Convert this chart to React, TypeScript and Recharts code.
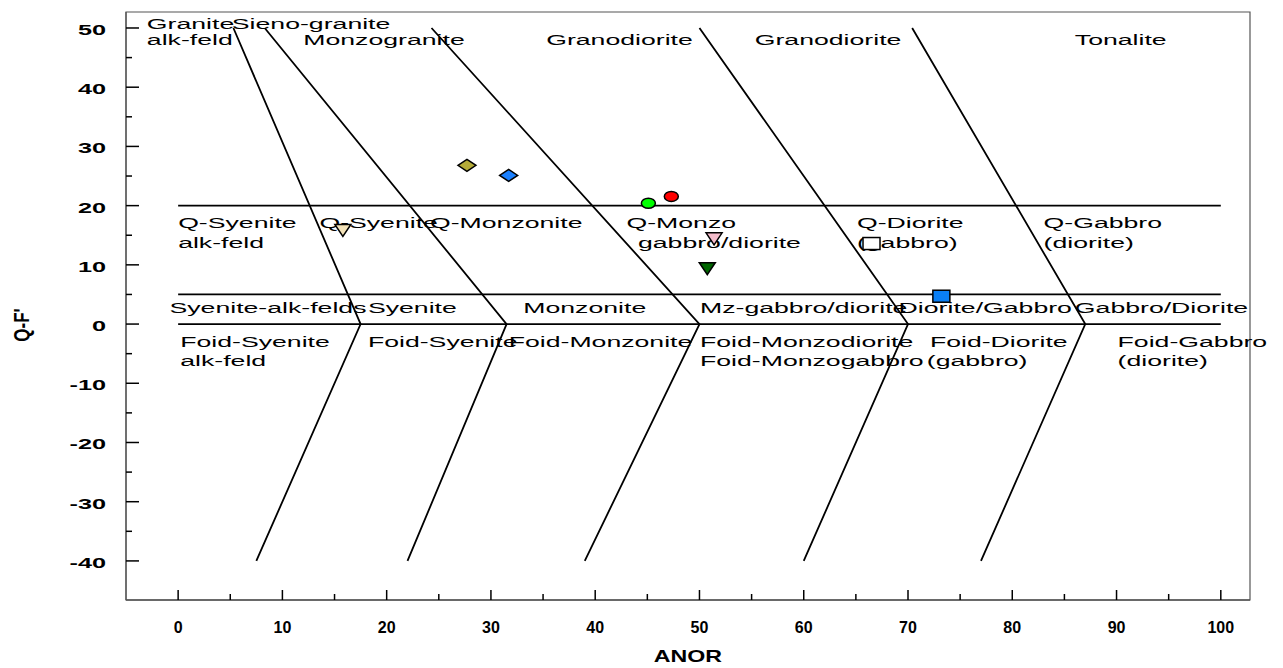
import React from 'react';
import { ScatterChart, Scatter, XAxis, YAxis, ReferenceArea } from 'recharts';

// Axis ranges of the ANOR vs Q' classification plot
const X_MIN = -5;
const X_MAX = 102.8;
const Y_MIN = -46.6;
const Y_MAX = 52.7;

const xTicks = [0, 5, 10, 15, 20, 25, 30, 35, 40, 45, 50, 55, 60, 65, 70, 75, 80, 85, 90, 95, 100];
const yTicks = [-40, -35, -30, -25, -20, -15, -10, -5, 0, 5, 10, 15, 20, 25, 30, 35, 40, 45, 50];

// Field boundaries (Streckeisen & Le Maitre, 1979)
const lineQ20 = [{ x: 0, y: 20 }, { x: 100, y: 20 }];
const lineQ5 = [{ x: 0, y: 5 }, { x: 100, y: 5 }];
const lineQ0 = [{ x: 0, y: 0 }, { x: 100, y: 0 }];
const bound1 = [{ x: 5.3, y: 50 }, { x: 17.5, y: 0 }, { x: 7.5, y: -40 }];
const bound2 = [{ x: 8.3, y: 50 }, { x: 31.5, y: 0 }, { x: 22, y: -40 }];
const bound3 = [{ x: 24.3, y: 50 }, { x: 50, y: 0 }, { x: 39, y: -40 }];
const bound4 = [{ x: 50, y: 50 }, { x: 70, y: 0 }, { x: 60, y: -40 }];
const bound5 = [{ x: 70.4, y: 50 }, { x: 87, y: 0 }, { x: 77, y: -40 }];
const boundaries = [lineQ20, lineQ5, lineQ0, bound1, bound2, bound3, bound4, bound5];

// Field names: text start (x) and baseline (y)
const fieldsTop = [
  { text: 'Granite', x: -3.0, y: 49.8 },
  { text: 'alk-feld', x: -3.0, y: 47.05 },
  { text: 'Sieno-granite', x: 5.15, y: 49.8 },
  { text: 'Monzogranite', x: 12.0, y: 47.05 },
  { text: 'Granodiorite', x: 35.3, y: 47.05 },
  { text: 'Granodiorite', x: 55.3, y: 47.05 },
  { text: 'Tonalite', x: 86.0, y: 47.05 },
];
const fieldsQ = [
  { text: 'Q-Syenite', x: 0, y: 16.2 },
  { text: 'alk-feld', x: 0, y: 12.9 },
  { text: 'Q-Syenite', x: 13.55, y: 16.2 },
  { text: 'Q-Monzonite', x: 24.15, y: 16.2 },
  { text: 'Q-Monzo', x: 43.0, y: 16.2 },
  { text: 'gabbro/diorite', x: 44.1, y: 12.9 },
  { text: 'Q-Diorite', x: 65.1, y: 16.2 },
  { text: '(gabbro)', x: 65.1, y: 12.9 },
  { text: 'Q-Gabbro', x: 83.0, y: 16.2 },
  { text: '(diorite)', x: 83.0, y: 12.9 },
];
const fieldsMid = [
  { text: 'Syenite-alk-felds', x: -0.83, y: 1.9 },
  { text: 'Syenite', x: 18.2, y: 1.9 },
  { text: 'Monzonite', x: 33.1, y: 1.9 },
  { text: 'Mz-gabbro/diorite', x: 50.05, y: 1.9 },
  { text: 'Diorite/Gabbro', x: 69.1, y: 1.9 },
  { text: 'Gabbro/Diorite', x: 86.0, y: 1.9 },
];
const fieldsFoid = [
  { text: 'Foid-Syenite', x: 0.2, y: -3.9 },
  { text: 'alk-feld', x: 0.2, y: -7.0 },
  { text: 'Foid-Syenite', x: 18.2, y: -3.9 },
  { text: 'Foid-Monzonite', x: 31.7, y: -3.9 },
  { text: 'Foid-Monzodiorite', x: 50.05, y: -3.9 },
  { text: 'Foid-Monzogabbro', x: 50.05, y: -7.0 },
  { text: 'Foid-Diorite', x: 72.1, y: -3.9 },
  { text: '(gabbro)', x: 71.8, y: -7.0 },
  { text: 'Foid-Gabbro', x: 90.1, y: -3.9 },
  { text: '(diorite)', x: 90.1, y: -7.0 },
];
const fieldLabels = [...fieldsTop, ...fieldsQ, ...fieldsMid, ...fieldsFoid];

// Samples
const sampleOlive = [{ x: 27.7, y: 26.8 }];
const sampleBlueDiamond = [{ x: 31.7, y: 25.1 }];
const sampleGreen = [{ x: 45.1, y: 20.4 }];
const sampleRed = [{ x: 47.3, y: 21.55 }];
const samplePink = [{ x: 51.4, y: 14.4 }];
const sampleDarkGreen = [{ x: 50.75, y: 9.36 }];
const sampleCream = [{ x: 15.8, y: 15.8 }];
const sampleWhite = [{ x: 66.5, y: 13.6 }];
const sampleBlueSquare = [{ x: 73.2, y: 4.7 }];

const FONT = '"Liberation Sans", Arial, Helvetica, sans-serif';
const STRETCH = 1.72;

const Diamond = (fill: string) => (p: any) => (
  <polygon
    points={`${p.cx - 9},${p.cy} ${p.cx},${p.cy - 6} ${p.cx + 9},${p.cy} ${p.cx},${p.cy + 6}`}
    fill={fill}
    stroke="#000"
    strokeWidth={1.5}
  />
);
const Dot = (fill: string) => (p: any) => (
  <ellipse cx={p.cx} cy={p.cy} rx={7} ry={5} fill={fill} stroke="#000" strokeWidth={1.5} />
);
const TriDown = (fill: string) => (p: any) => (
  <polygon
    points={`${p.cx - 8},${p.cy - 6} ${p.cx + 8},${p.cy - 6} ${p.cx},${p.cy + 6}`}
    fill={fill}
    stroke="#000"
    strokeWidth={1.5}
  />
);
const Square = (fill: string) => (p: any) => (
  <rect x={p.cx - 8.5} y={p.cy - 6} width={17} height={12} fill={fill} stroke="#000" strokeWidth={1.5} />
);

const NoPoint = () => <g />;

const FieldText = (p: any) => (
  <text
    transform={`translate(${p.cx},${p.cy}) scale(${STRETCH},1)`}
    x={0}
    y={0}
    fontFamily={FONT}
    fontSize={15.5}
    fill="#000"
  >
    {p.payload.text}
  </text>
);

const XTick = (p: any) => {
  const v = p.payload.value;
  const major = v % 10 === 0;
  return (
    <g>
      <line x1={p.x} y1={p.y} x2={p.x} y2={p.y - (major ? 10 : 6)} stroke="#000" strokeWidth={1.5} />
      {major && (
        <text x={p.x} y={p.y + 33} textAnchor="middle" fontFamily={FONT} fontWeight="bold" fontSize={16} fill="#000">
          {v}
        </text>
      )}
    </g>
  );
};

const YTick = (p: any) => {
  const v = p.payload.value;
  const major = v % 10 === 0;
  return (
    <g>
      <line x1={p.x} y1={p.y} x2={p.x + (major ? 13 : 6)} y2={p.y} stroke="#000" strokeWidth={1.5} />
      {major && (
        <text
          transform={`translate(${p.x - 20},${p.y + 7}) scale(1.63,1)`}
          textAnchor="end"
          fontFamily={FONT}
          fontWeight="bold"
          fontSize={15.5}
          fill="#000"
        >
          {v}
        </text>
      )}
    </g>
  );
};

const XTitle = (p: any) => {
  const vb = p.viewBox || { x: 126, y: 600, width: 1124 };
  return (
    <text
      transform={`translate(${vb.x + vb.width / 2},${vb.y + 62}) scale(1.45,1)`}
      textAnchor="middle"
      fontFamily={FONT}
      fontWeight="bold"
      fontSize={16}
      fill="#000"
    >
      ANOR
    </text>
  );
};

const YTitle = () => (
  <text
    transform="translate(29,325) scale(1.35,1) rotate(-90)"
    textAnchor="middle"
    fontFamily={FONT}
    fontWeight="bold"
    fontSize={17}
    fill="#000"
  >
    Q-F'
  </text>
);

export default function App() {
  return (
    <div style={{ width: 1283, height: 668, background: '#fff' }}>
      <style>{'html,body{margin:0;padding:0;overflow:hidden;background:#fff}'}</style>
      <ScatterChart width={1283} height={668} margin={{ top: 12, right: 33, bottom: 28, left: 66 }}>
        <XAxis
          type="number"
          dataKey="x"
          domain={[X_MIN, X_MAX]}
          ticks={xTicks}
          interval={0}
          tickSize={0}
          tickMargin={0}
          tickLine={false}
          tick={<XTick />}
          axisLine={{ stroke: '#555', strokeWidth: 1.5 }}
          height={40}
          label={{ value: 'ANOR', content: XTitle }}
        />
        <YAxis
          type="number"
          dataKey="y"
          domain={[Y_MIN, Y_MAX]}
          ticks={yTicks}
          interval={0}
          tickSize={0}
          tickMargin={0}
          tickLine={false}
          tick={<YTick />}
          axisLine={{ stroke: '#555', strokeWidth: 1.2 }}
          width={60}
          label={{ value: "Q-F'", content: YTitle }}
        />
        <ReferenceArea x1={X_MIN} x2={X_MAX} y1={Y_MIN} y2={Y_MAX} fill="none" stroke="#555" strokeWidth={1.2} />
        {boundaries.map((seg, i) => (
          <Scatter
            key={`b${i}`}
            data={seg}
            line={{ stroke: '#000', strokeWidth: 1.8 }}
            shape={NoPoint}
            isAnimationActive={false}
          />
        ))}
        <Scatter data={fieldLabels} shape={FieldText} isAnimationActive={false} />
        <Scatter data={sampleOlive} shape={Diamond('#b5ac38')} isAnimationActive={false} />
        <Scatter data={sampleBlueDiamond} shape={Diamond('#1a80ff')} isAnimationActive={false} />
        <Scatter data={sampleGreen} shape={Dot('#00ff00')} isAnimationActive={false} />
        <Scatter data={sampleRed} shape={Dot('#ff0000')} isAnimationActive={false} />
        <Scatter data={samplePink} shape={TriDown('#f4bccb')} isAnimationActive={false} />
        <Scatter data={sampleDarkGreen} shape={TriDown('#006600')} isAnimationActive={false} />
        <Scatter data={sampleCream} shape={TriDown('#f3e2b8')} isAnimationActive={false} />
        <Scatter data={sampleWhite} shape={Square('#ffffff')} isAnimationActive={false} />
        <Scatter data={sampleBlueSquare} shape={Square('#0a7ff5')} isAnimationActive={false} />
      </ScatterChart>
    </div>
  );
}
